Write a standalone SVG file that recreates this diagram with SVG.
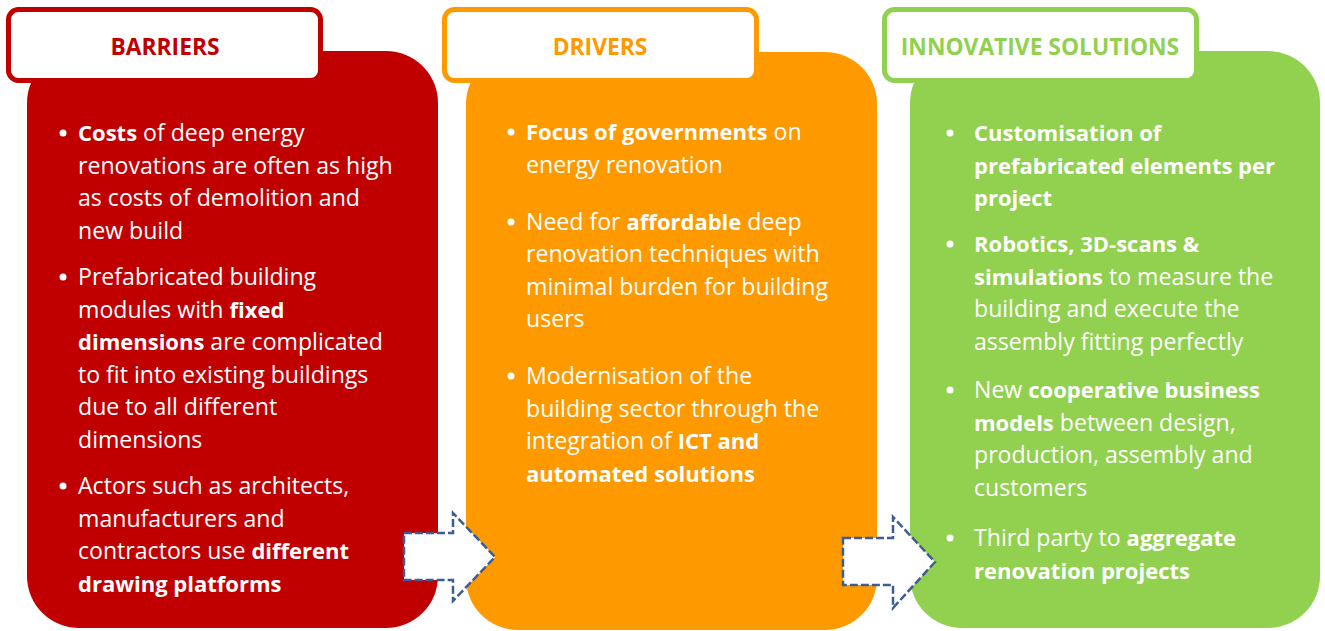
<svg xmlns="http://www.w3.org/2000/svg" width="1325" height="631" viewBox="0 0 1325 631">
<style>
.t{font-family:"Open Sans",Lato,"Liberation Sans",sans-serif;font-size:23.1px;fill:#fff}
.b{font-weight:bold;font-size:22px}
.hd{fill:#fff;stroke-width:5}
.ht{font-family:"Open Sans",Lato,"Liberation Sans",sans-serif;font-size:22.8px;font-weight:bold;text-anchor:middle}
.dot{fill:#fff}
.arr{fill:#fff;stroke:#3C5E95;stroke-width:2.5;stroke-dasharray:8 3}
</style>
<rect width="1325" height="631" fill="#fff"/>
<g id="barriers">
<rect x="27" y="51" width="411" height="577" rx="52" fill="#C00000"/>
<rect class="hd" x="8.5" y="9.5" width="312" height="71" rx="10" stroke="#C00000"/>
<text class="ht" x="165" y="55" fill="#C00000">BARRIERS</text>
<circle class="dot" cx="63" cy="133" r="3.5"/>
<circle class="dot" cx="63" cy="277" r="3.5"/>
<circle class="dot" cx="63" cy="486" r="3.5"/>
<text class="t" x="78" y="141"><tspan class="b">Costs</tspan> of deep energy</text>
<text class="t" x="78" y="173.5">renovations are often as high</text>
<text class="t" x="78" y="206">as costs of demolition and</text>
<text class="t" x="78" y="238.5">new build</text>
<text class="t" x="78" y="285">Prefabricated building</text>
<text class="t" x="78" y="317.5">modules with <tspan class="b">fixed</tspan></text>
<text class="t" x="78" y="350"><tspan class="b">dimensions</tspan> are complicated</text>
<text class="t" x="78" y="382.5">to fit into existing buildings</text>
<text class="t" x="78" y="415">due to all different</text>
<text class="t" x="78" y="447.5">dimensions</text>
<text class="t" x="78" y="494">Actors such as architects,</text>
<text class="t" x="78" y="526.5">manufacturers and</text>
<text class="t" x="78" y="559">contractors use <tspan class="b">different</tspan></text>
<text class="t b" x="78" y="591.5">drawing platforms</text>
</g>
<g id="drivers">
<rect x="466" y="52" width="411" height="578" rx="52" fill="#FF9900"/>
<rect class="hd" x="444.5" y="9.5" width="312" height="71" rx="10" stroke="#FF9900"/>
<text class="ht" x="600" y="55" fill="#FF9900">DRIVERS</text>
<circle class="dot" cx="511" cy="132" r="3.5"/>
<circle class="dot" cx="511" cy="222" r="3.5"/>
<circle class="dot" cx="511" cy="376" r="3.5"/>
<text class="t" x="526" y="140"><tspan class="b">Focus of governments</tspan> on</text>
<text class="t" x="526" y="173">energy renovation</text>
<text class="t" x="526" y="229.5">Need for <tspan class="b">affordable</tspan> deep</text>
<text class="t" x="526" y="262">renovation techniques with</text>
<text class="t" x="526" y="294.5">minimal burden for building</text>
<text class="t" x="526" y="327">users</text>
<text class="t" x="526" y="384">Modernisation of the</text>
<text class="t" x="526" y="416.5">building sector through the</text>
<text class="t" x="526" y="449">integration of <tspan class="b">ICT and</tspan></text>
<text class="t b" x="526" y="481.5">automated solutions</text>
</g>
<g id="solutions">
<rect x="910" y="51" width="410" height="577" rx="52" fill="#92D050"/>
<rect class="hd" x="884.5" y="9.5" width="312" height="71" rx="10" stroke="#92D050"/>
<text class="ht" x="1040" y="55" fill="#92D050">INNOVATIVE SOLUTIONS</text>
<circle class="dot" cx="950" cy="133" r="3.5"/>
<circle class="dot" cx="950" cy="244" r="3.5"/>
<circle class="dot" cx="950" cy="390" r="3.5"/>
<circle class="dot" cx="950" cy="538" r="3.5"/>
<text class="t b" x="974" y="141">Customisation of</text>
<text class="t b" x="974" y="173.5">prefabricated elements per</text>
<text class="t b" x="974" y="206">project</text>
<text class="t b" x="974" y="252">Robotics, 3D-scans &amp;</text>
<text class="t" x="974" y="284.5"><tspan class="b">simulations</tspan> to measure the</text>
<text class="t" x="974" y="317">building and execute the</text>
<text class="t" x="974" y="349.5">assembly fitting perfectly</text>
<text class="t" x="974" y="398">New <tspan class="b">cooperative business</tspan></text>
<text class="t" x="974" y="430.5"><tspan class="b">models</tspan> between design,</text>
<text class="t" x="974" y="463">production, assembly and</text>
<text class="t" x="974" y="495.5">customers</text>
<text class="t" x="974" y="546">Third party to <tspan class="b">aggregate</tspan></text>
<text class="t b" x="974" y="578.5">renovation projects</text>
</g>
<g id="connectors">
<path class="arr" d="M404 533 H453 V513 L495 557 L453 601 V580 H404 Z"/>
<path class="arr" d="M843 538 H893 V517 L935 562 L893 608 V585 H843 Z"/>
</g>
</svg>
